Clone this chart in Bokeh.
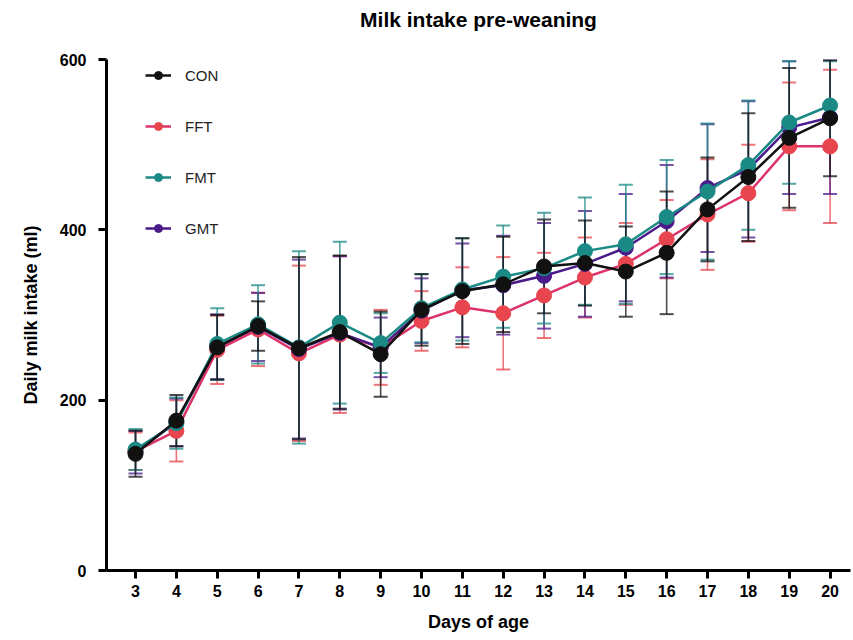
from bokeh.plotting import figure
from bokeh.models import ColumnDataSource, Whisker, TeeHead, Range1d, FixedTicker, Legend, LegendItem, Title
from bokeh.embed import file_html
from bokeh.resources import INLINE

days = list(range(3, 21))

con_mean = [137, 176, 262, 287, 261, 280, 254, 306, 328, 336, 357, 361, 351, 373, 424, 462, 508, 531]
con_sd   = [27, 30, 38, 29, 107, 90, 50, 42, 62, 56, 55, 50, 53, 72, 61, 75, 82, 68]

fft_mean = [140, 164, 259, 283, 255, 277, 262, 293, 309, 302, 323, 344, 360, 389, 418, 443, 498, 498]
fft_sd   = [22, 36, 40, 43, 103, 92, 44, 35, 47, 66, 50, 47, 48, 46, 65, 57, 75, 90]

fmt_mean = [142, 173, 266, 289, 262, 291, 267, 308, 330, 345, 355, 375, 383, 415, 445, 476, 526, 546]
fmt_sd   = [24, 30, 42, 46, 113, 95, 35, 40, 60, 60, 65, 63, 70, 67, 80, 76, 72, 52]

gmt_mean = [139, 174, 263, 286, 260, 279, 262, 305, 329, 335, 346, 360, 379, 410, 449, 471, 520, 532]
gmt_sd   = [25, 28, 38, 40, 105, 90, 35, 38, 55, 58, 62, 62, 63, 66, 75, 80, 78, 90]

groups = ["CON", "FFT", "FMT", "GMT"]
colors = {"CON": "#111111", "FFT": "#e8454f", "FMT": "#1b8a85", "GMT": "#4a1a8a"}
line_colors = {"CON": "#111111", "FFT": "#dc3468", "FMT": "#1b8a85", "GMT": "#4a1a8a"}
data = {"CON": (con_mean, con_sd), "FFT": (fft_mean, fft_sd),
        "FMT": (fmt_mean, fmt_sd), "GMT": (gmt_mean, gmt_sd)}

FONT = "Liberation Sans"

p = figure(width=853, height=640, output_backend="svg", toolbar_location=None,
           x_range=Range1d(2.29, 20.5), y_range=Range1d(0, 600),
           min_border_left=106, min_border_right=3, min_border_top=0, min_border_bottom=70)
p.grid.visible = False
p.outline_line_color = None
p.background_fill_color = "white"

spacer = Title(text=" ", text_font=FONT, text_font_size="11px")
p.add_layout(spacer, "above")
title = Title(text="Milk intake pre-weaning", align="center",
              text_font=FONT, text_font_size="21px", text_font_style="bold", text_color="black")
p.add_layout(title, "above")

for ax in (p.xaxis[0], p.yaxis[0]):
    ax.axis_line_width = 3
    ax.axis_line_color = "black"
    ax.major_tick_line_width = 3
    ax.major_tick_line_color = "black"
    ax.major_tick_out = 8
    ax.major_tick_in = 0
    ax.minor_tick_line_color = None
    ax.major_label_text_font = FONT
    ax.major_label_text_font_style = "bold"
    ax.major_label_text_font_size = "16px"
    ax.major_label_text_color = "black"
    ax.axis_label_text_font = FONT
    ax.axis_label_text_font_style = "bold"
    ax.axis_label_text_font_size = "18px"
    ax.axis_label_text_color = "black"

p.xaxis.ticker = FixedTicker(ticks=days)
p.yaxis.ticker = FixedTicker(ticks=[0, 200, 400, 600])
p.xaxis.axis_label = "Days of age"
p.yaxis.axis_label = "Daily milk intake (ml)"
p.xaxis.major_label_standoff = 6
p.yaxis.major_label_standoff = 12
p.xaxis.axis_label_standoff = 12
p.yaxis.axis_label_standoff = 16

items = {}
order = ["FFT", "GMT", "FMT", "CON"]
for g in order:
    mean, sd = data[g]
    src = ColumnDataSource(dict(x=days, y=mean,
                                upper=[min(m + s, 600) for m, s in zip(mean, sd)],
                                lower=[m - s for m, s in zip(mean, sd)]))
    w = Whisker(base="x", upper="upper", lower="lower", source=src, dimension="height",
                line_color=colors[g], line_width=1.6, line_alpha=0.75,
                upper_head=TeeHead(size=14, line_color=colors[g], line_width=2, line_alpha=0.75),
                lower_head=TeeHead(size=14, line_color=colors[g], line_width=2, line_alpha=0.75))
    w.level = "underlay"
    p.add_layout(w)
    r1 = p.line("x", "y", source=src, line_color=line_colors[g], line_width=2.5)
    r2 = p.scatter("x", "y", source=src, marker="circle", size=15,
                   fill_color=colors[g], line_color=colors[g])
    items[g] = [r1, r2]

legend = Legend(items=[LegendItem(label=g, renderers=items[g]) for g in groups],
                location=(39, 332), orientation="vertical",
                spacing=31, label_height=20, glyph_height=20, glyph_width=26,
                label_standoff=14, padding=0, margin=0,
                border_line_color=None, background_fill_alpha=0,
                label_text_font=FONT, label_text_font_size="15px", label_text_color="#222222")
p.add_layout(legend, "center")

open("out.html", "w").write(file_html(p, INLINE))
